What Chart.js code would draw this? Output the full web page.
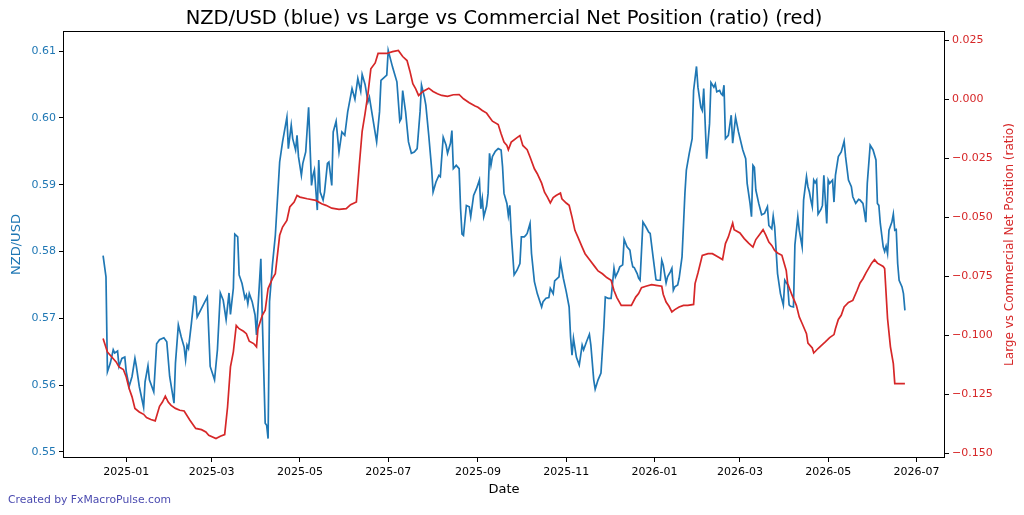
<!DOCTYPE html>
<html>
<head>
<meta charset="utf-8">
<script src="https://cdn.jsdelivr.net/npm/chart.js@4.4.1/dist/chart.umd.min.js"></script>
<style>
    html, body { margin: 0; padding: 0; background: #fff; }
    #wrap { position: relative; width: 1024px; height: 515px; }
    #credit { position: absolute; left: 8px; top: 493px; font: 10.8px 'DejaVu Sans', sans-serif; color: #4b4bb0; }
</style>
</head>
<body>
<div id="wrap">
    <canvas id="chart" width="1024" height="515"></canvas>
    <div id="credit">Created by FxMacroPulse.com</div>
</div>
<script>
// days are counted from BASE_DATE (2025-01-01)
const BASE_DATE = '2025-01-01';

const nzdDays = [
    -16, -14, -13, -11, -9, -8, -6, -5, -3, -1,
    0, 2, 4, 6, 7, 9, 12, 13, 15, 16,
    19, 21, 23, 26, 28, 30, 33, 34, 36, 38,
    40, 41, 42, 43, 45, 47, 48, 49, 52, 56,
    58, 61, 63, 65, 67, 69, 71, 72, 74, 75,
    77, 78, 80, 82, 83, 84, 85, 87, 89, 90,
    91, 93, 94, 96, 97, 98, 99, 101, 103, 106,
    108, 111, 112, 114, 115, 117, 118, 119, 121, 122,
    124, 126, 128, 129, 130, 132, 133, 134, 136, 137,
    139, 140, 142, 143, 145, 147, 149, 151, 153, 156,
    158, 160, 162, 163, 165, 167, 168, 170, 173, 175,
    176, 180, 181, 184, 187, 189, 190, 191, 193, 195,
    197, 199, 201, 203, 204, 206, 207, 209, 211, 212,
    214, 216, 217, 219, 221, 222, 224, 225, 226, 228,
    230, 231, 232, 233, 235, 237, 238, 240, 242, 244,
    245, 246, 247, 249, 250, 251, 252, 253, 255, 257,
    259, 260, 261, 263, 264, 265, 266, 268, 270, 272,
    273, 275, 276, 277, 279, 280, 282, 284, 287, 288,
    290, 292, 293, 295, 296, 299, 300, 302, 304, 306,
    307, 308, 309, 311, 313, 315, 316, 318, 320, 321,
    323, 324, 326, 328, 330, 331, 333, 335, 337, 338,
    340, 341, 343, 344, 346, 348, 349, 350, 351, 353,
    354, 355, 357, 359, 361, 362, 364, 366, 367, 369,
    370, 371, 373, 374, 376, 377, 378, 379, 381, 382,
    384, 385, 386, 387, 389, 391, 392, 394, 395, 397,
    398, 399, 401, 403, 404, 406, 407, 408, 410, 411,
    412, 413, 414, 416, 418, 419, 421, 423, 426, 428,
    429, 431, 432, 433, 434, 435, 437, 439, 441, 443,
    444, 446, 447, 448, 450, 451, 452, 454, 455, 457,
    458, 459, 461, 462, 464, 465, 467, 468, 470, 471,
    472, 473, 474, 475, 476, 477, 478, 480, 481, 482,
    483, 484, 485, 486, 488, 489, 490, 492, 494, 496,
    497, 499, 501, 502, 504, 506, 507, 509, 510, 511,
    512, 514, 516, 518, 519, 520, 521, 523, 524, 525,
    526, 527, 529, 530, 531, 532, 533, 534, 536, 537,
    538
];

const nzdUsd = [
    0.5794, 0.5762, 0.5620, 0.5633, 0.5653, 0.5648, 0.5651, 0.5628, 0.5640, 0.5642,
    0.5620, 0.5598, 0.5613, 0.5640, 0.5628, 0.5598, 0.5567, 0.5605, 0.5629, 0.5608,
    0.5590, 0.5662, 0.5668, 0.5671, 0.5665, 0.5613, 0.5573, 0.5633, 0.5690, 0.5672,
    0.5657, 0.5638, 0.5660, 0.5655, 0.5692, 0.5733, 0.5732, 0.5702, 0.5715, 0.5732,
    0.5628, 0.5608, 0.5653, 0.5738, 0.5727, 0.5698, 0.5738, 0.5706, 0.5745, 0.5826,
    0.5822, 0.5765, 0.5752, 0.5730, 0.5735, 0.5722, 0.5737, 0.5725, 0.5705, 0.5675,
    0.5715, 0.5789, 0.5700, 0.5543, 0.5540, 0.5520, 0.5725, 0.5780, 0.5824, 0.5934,
    0.5964, 0.6001, 0.5954, 0.5989, 0.5969, 0.5952, 0.5974, 0.5942, 0.5914, 0.5932,
    0.5949, 0.6016, 0.5899, 0.5914, 0.5922, 0.5862, 0.5937, 0.5889, 0.5877, 0.5889,
    0.5932, 0.5934, 0.5899, 0.5979, 0.5995, 0.5949, 0.5979, 0.5974, 0.6009, 0.6044,
    0.6028, 0.6059, 0.6040, 0.6065, 0.6050, 0.6024, 0.6031, 0.6004, 0.5964, 0.6009,
    0.6056, 0.6064, 0.6101, 0.6076, 0.6054, 0.5995, 0.5999, 0.6041, 0.6009, 0.5964,
    0.5947, 0.5949, 0.5954, 0.6009, 0.6049, 0.6031, 0.6019, 0.5974, 0.5924, 0.5889,
    0.5904, 0.5914, 0.5912, 0.5971, 0.5959, 0.5947, 0.5962, 0.5981, 0.5924, 0.5929,
    0.5924, 0.5864, 0.5826, 0.5824, 0.5869, 0.5867, 0.5852, 0.5884, 0.5894, 0.5907,
    0.5864, 0.5879, 0.5852, 0.5868, 0.5887, 0.5947, 0.5929, 0.5942, 0.5950, 0.5954,
    0.5952, 0.5927, 0.5887, 0.5872, 0.5854, 0.5869, 0.5827, 0.5765, 0.5772, 0.5782,
    0.5822, 0.5822, 0.5824, 0.5827, 0.5842, 0.5797, 0.5755, 0.5737, 0.5717, 0.5725,
    0.5730, 0.5731, 0.5745, 0.5737, 0.5756, 0.5762, 0.5785, 0.5760, 0.5740, 0.5717,
    0.5672, 0.5645, 0.5670, 0.5642, 0.5630, 0.5660, 0.5653, 0.5665, 0.5676, 0.5660,
    0.5608, 0.5594, 0.5608, 0.5618, 0.5687, 0.5732, 0.5730, 0.5730, 0.5775, 0.5762,
    0.5771, 0.5777, 0.5780, 0.5818, 0.5807, 0.5802, 0.5787, 0.5777, 0.5776, 0.5767,
    0.5760, 0.5757, 0.5844, 0.5837, 0.5829, 0.5827, 0.5792, 0.5758, 0.5757, 0.5757,
    0.5787, 0.5780, 0.5753, 0.5762, 0.5770, 0.5775, 0.5742, 0.5747, 0.5750, 0.5760,
    0.5792, 0.5839, 0.5887, 0.5922, 0.5947, 0.5969, 0.6041, 0.6077, 0.6046, 0.6016,
    0.6011, 0.6044, 0.5939, 0.5991, 0.6053, 0.6046, 0.6051, 0.6039, 0.6041, 0.6036,
    0.6034, 0.6049, 0.5969, 0.5974, 0.6004, 0.5962, 0.6001, 0.5979, 0.5952, 0.5939,
    0.5902, 0.5872, 0.5852, 0.5929, 0.5926, 0.5892, 0.5872, 0.5855, 0.5857, 0.5867,
    0.5839, 0.5834, 0.5853, 0.5837, 0.5767, 0.5752, 0.5737, 0.5720, 0.5757, 0.5750,
    0.5720, 0.5718, 0.5717, 0.5810, 0.5852, 0.5832, 0.5807, 0.5877, 0.5912, 0.5897,
    0.5889, 0.5877, 0.5867, 0.5907, 0.5903, 0.5907, 0.5856, 0.5863, 0.5869, 0.5914,
    0.5877, 0.5842, 0.5907, 0.5902, 0.5907, 0.5874, 0.5914, 0.5942, 0.5949, 0.5965,
    0.5942, 0.5907, 0.5897, 0.5882, 0.5872, 0.5878, 0.5877, 0.5872, 0.5859, 0.5844,
    0.5902, 0.5959, 0.5952, 0.5937, 0.5872, 0.5869, 0.5842, 0.5807, 0.5800, 0.5808,
    0.5797, 0.5832, 0.5844, 0.5856, 0.5832, 0.5833, 0.5782, 0.5757, 0.5747, 0.5737,
    0.5712
];

const ratioDays = [
    -16, -13, -10, -7, -5, -2, 0, 2, 4, 6,
    9, 12, 14, 17, 20, 23, 25, 27, 29, 31,
    34, 37, 40, 44, 48, 52, 55, 57, 62, 65,
    68, 70, 72, 74, 76, 78, 81, 83, 85, 88,
    90, 91, 94, 96, 98, 101, 103, 106, 108, 111,
    113, 116, 118, 120, 125, 131, 135, 138, 142, 147,
    152, 155, 159, 161, 163, 165, 167, 169, 172, 174,
    180, 184, 188, 191, 194, 196, 198, 200, 202, 205,
    209, 212, 215, 218, 222, 226, 230, 233, 237, 241,
    243, 246, 249, 251, 253, 257, 259, 261, 263, 264,
    266, 270, 272, 274, 277, 279, 282, 284, 287, 289,
    291, 293, 295, 297, 300, 301, 304, 306, 308, 310,
    312, 315, 317, 320, 324, 326, 329, 332, 335, 337,
    339, 342, 345, 349, 352, 354, 356, 359, 363, 366,
    370, 371, 373, 375, 377, 379, 382, 385, 388, 392,
    393, 395, 398, 402, 405, 409, 412, 414, 416, 419,
    420, 424, 427, 430, 433, 435, 438, 440, 442, 444,
    446, 448, 450, 453, 456, 457, 460, 463, 465, 467,
    470, 471, 474, 475, 478, 480, 483, 486, 489, 490,
    492, 494, 496, 499, 502, 505, 507, 509, 511, 513,
    515, 517, 519, 523, 524, 526, 528, 530, 531, 535,
    538
];

const netRatio = [
    -0.1014, -0.1071, -0.1092, -0.1113, -0.1134, -0.1145, -0.1177, -0.1226, -0.1261, -0.1310,
    -0.1325, -0.1335, -0.1349, -0.1357, -0.1363, -0.1301, -0.1283, -0.1258, -0.1283, -0.1297,
    -0.1310, -0.1318, -0.1321, -0.1360, -0.1395, -0.1400, -0.1410, -0.1424, -0.1438, -0.1428,
    -0.1421, -0.1304, -0.1134, -0.1070, -0.0958, -0.0972, -0.0983, -0.0993, -0.1025, -0.1035,
    -0.1049, -0.0972, -0.0915, -0.0894, -0.0802, -0.0760, -0.0739, -0.0576, -0.0541, -0.0513,
    -0.0456, -0.0435, -0.0407, -0.0414, -0.0421, -0.0428, -0.0442, -0.0449, -0.0461, -0.0466,
    -0.0463, -0.0446, -0.0435, -0.0280, -0.0135, -0.0060, 0.0024, 0.0130, 0.0155, 0.0195,
    0.0195, 0.0203, 0.0208, 0.0182, 0.0165, 0.0120, 0.0067, 0.0045, 0.0017, 0.0034,
    0.0048, 0.0034, 0.0024, 0.0017, 0.0013, 0.0020, 0.0021, 0.0003, -0.0014, -0.0028,
    -0.0033, -0.0047, -0.0058, -0.0075, -0.0092, -0.0106, -0.0145, -0.0181, -0.0195, -0.0213,
    -0.0181, -0.0162, -0.0153, -0.0195, -0.0213, -0.0244, -0.0294, -0.0315, -0.0355, -0.0393,
    -0.0414, -0.0439, -0.0416, -0.0407, -0.0397, -0.0421, -0.0439, -0.0449, -0.0499, -0.0555,
    -0.0583, -0.0626, -0.0654, -0.0679, -0.0711, -0.0727, -0.0739, -0.0755, -0.0767, -0.0810,
    -0.0840, -0.0873, -0.0873, -0.0873, -0.0838, -0.0823, -0.0798, -0.0792, -0.0785, -0.0788,
    -0.0792, -0.0826, -0.0859, -0.0877, -0.0901, -0.0891, -0.0880, -0.0873, -0.0873, -0.0869,
    -0.0781, -0.0736, -0.0661, -0.0654, -0.0654, -0.0668, -0.0679, -0.0611, -0.0583, -0.0524,
    -0.0552, -0.0566, -0.0590, -0.0609, -0.0626, -0.0594, -0.0569, -0.0552, -0.0576, -0.0605,
    -0.0619, -0.0640, -0.0651, -0.0661, -0.0725, -0.0781, -0.0830, -0.0873, -0.0922, -0.0950,
    -0.0993, -0.1033, -0.1054, -0.1075, -0.1056, -0.1045, -0.1028, -0.1010, -0.0997, -0.0972,
    -0.0933, -0.0915, -0.0880, -0.0861, -0.0852, -0.0809, -0.0778, -0.0760, -0.0736, -0.0715,
    -0.0694, -0.0679, -0.0694, -0.0708, -0.0717, -0.0929, -0.1049, -0.1120, -0.1205, -0.1205,
    -0.1205
];

const xTickLabels = ['2025-01', '2025-03', '2025-05', '2025-07', '2025-09', '2025-11',
    '2026-01', '2026-03', '2026-05', '2026-07'];
const leftTicks = [0.55, 0.56, 0.57, 0.58, 0.59, 0.60, 0.61];
const rightTicks = [0.025, 0.0, -0.025, -0.05, -0.075, -0.1, -0.125, -0.15];

const colors = {
    blue: '#1f77b4',
    red: '#d62728',
    text: '#000000'
};
const FONT = "'DejaVu Sans', sans-serif";
const DAY_MS = 86400000;
const BASE_MS = Date.parse(BASE_DATE + 'T00:00:00Z');

function monthToDay(label) {
    const [y, m] = label.split('-').map(Number);
    return (Date.UTC(y, m - 1, 1) - BASE_MS) / DAY_MS;
}

function dayToLabel(day) {
    const d = new Date(BASE_MS + Math.round(day) * DAY_MS);
    return `${d.getUTCFullYear()}-${String(d.getUTCMonth() + 1).padStart(2, '0')}`;
}

// matplotlib style 5% margins
function paddedRange(values) {
    const lo = Math.min(...values);
    const hi = Math.max(...values);
    const pad = (hi - lo) * 0.05;
    return [lo - pad, hi + pad];
}

const [xMin, xMax] = paddedRange(nzdDays.concat(ratioDays));
const [yMin, yMax] = paddedRange(nzdUsd);
const [y2Min, y2Max] = paddedRange(netRatio);

const decorPlugin = {
    id: 'decor',
    afterDraw(chart) {
        const { ctx, chartArea: a } = chart;
        ctx.save();
        ctx.strokeStyle = '#000';
        ctx.lineWidth = 1;
        ctx.strokeRect(Math.round(a.left) + 0.5, Math.round(a.top) + 0.5,
            Math.round(a.right - a.left) - 1, Math.round(a.bottom - a.top) - 1);

        ctx.fillStyle = colors.text;
        ctx.font = `19.5px ${FONT}`;
        ctx.textAlign = 'center';
        ctx.textBaseline = 'alphabetic';
        ctx.fillText('NZD/USD (blue) vs Large vs Commercial Net Position (ratio) (red)', (a.left + a.right) / 2, 24);

        ctx.translate(1010, (a.top + a.bottom) / 2);
        ctx.rotate(-Math.PI / 2);
        ctx.fillStyle = colors.red;
        ctx.font = `12px ${FONT}`;
        ctx.textBaseline = 'middle';
        ctx.fillText('Large vs Commercial Net Position (ratio)', 0, 0);
        ctx.restore();
    }
};

const tickGrid = { display: true, drawOnChartArea: false, drawTicks: true, tickLength: 4, color: '#000', lineWidth: 1 };

const ctx = document.getElementById('chart').getContext('2d');
new Chart(ctx, {
    type: 'line',
    data: {
        datasets: [
            {
                label: 'Large vs Commercial Net Position (ratio)',
                data: ratioDays.map((d, i) => ({ x: d, y: netRatio[i] })),
                yAxisID: 'y2',
                borderColor: colors.red,
                borderWidth: 1.7,
                pointRadius: 0,
                tension: 0,
                fill: false,
                order: 0
            },
            {
                label: 'NZD/USD',
                data: nzdDays.map((d, i) => ({ x: d, y: nzdUsd[i] })),
                yAxisID: 'y',
                borderColor: colors.blue,
                borderWidth: 1.7,
                pointRadius: 0,
                tension: 0,
                fill: false,
                order: 1
            }
        ]
    },
    options: {
        responsive: false,
        animation: false,
        devicePixelRatio: 1,
        layout: { padding: { top: 31, left: 0, right: 0, bottom: 0 } },
        plugins: {
            legend: { display: false },
            tooltip: { enabled: false }
        },
        scales: {
            x: {
                type: 'linear',
                position: 'bottom',
                min: xMin,
                max: xMax,
                afterBuildTicks: (scale) => { scale.ticks = xTickLabels.map(s => ({ value: monthToDay(s) })); },
                afterFit: (scale) => { scale.height = 57; },
                ticks: {
                    autoSkip: false,
                    maxRotation: 0,
                    padding: 4,
                    color: colors.text,
                    font: { family: FONT, size: 11 },
                    callback: (v) => dayToLabel(v)
                },
                grid: tickGrid,
                border: { display: false },
                title: {
                    display: true,
                    text: 'Date',
                    color: colors.text,
                    font: { family: FONT, size: 13 },
                    padding: { top: 0, bottom: 18 }
                }
            },
            y: {
                type: 'linear',
                position: 'left',
                min: yMin,
                max: yMax,
                afterBuildTicks: (scale) => { scale.ticks = leftTicks.map(v => ({ value: v })); },
                afterFit: (scale) => { scale.width = 63; },
                ticks: {
                    padding: 3,
                    color: colors.blue,
                    font: { family: FONT, size: 11 },
                    callback: (v) => v.toFixed(2)
                },
                grid: tickGrid,
                border: { display: false },
                title: {
                    display: true,
                    text: 'NZD/USD',
                    color: colors.blue,
                    font: { family: FONT, size: 13 },
                    padding: { top: 9, bottom: 0 }
                }
            },
            y2: {
                type: 'linear',
                position: 'right',
                min: y2Min,
                max: y2Max,
                afterBuildTicks: (scale) => { scale.ticks = rightTicks.map(v => ({ value: v })); },
                afterFit: (scale) => { scale.width = 79; },
                ticks: {
                    padding: 3,
                    color: colors.red,
                    font: { family: FONT, size: 11 },
                    callback: (v) => v.toFixed(3).replace('-', '\u2212')
                },
                grid: tickGrid,
                border: { display: false }
            }
        }
    },
    plugins: [decorPlugin]
});
</script>
</body>
</html>
